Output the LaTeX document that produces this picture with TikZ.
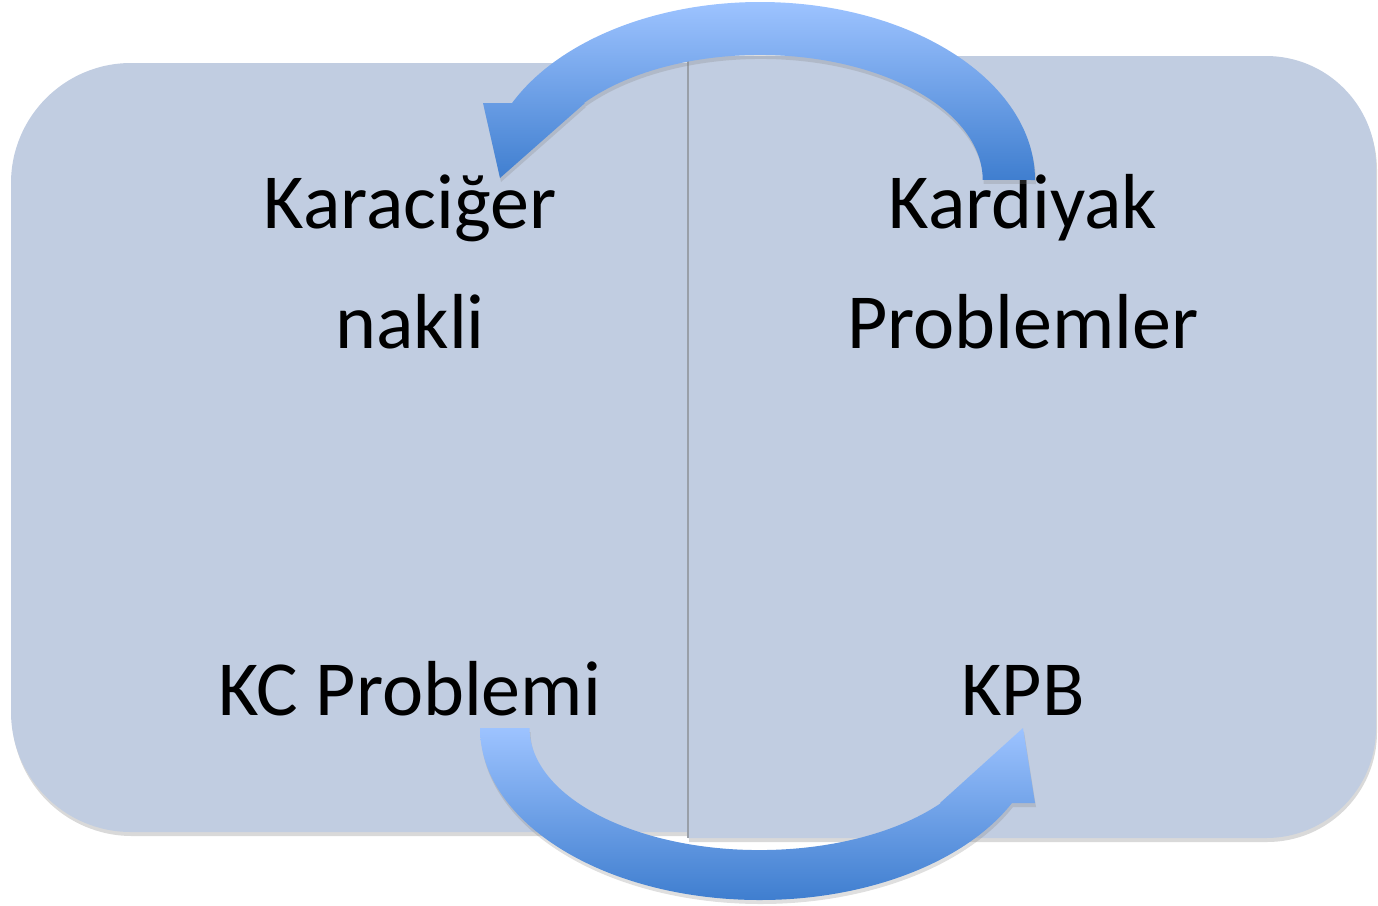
\documentclass[tikz,border=0pt]{standalone}
\usepackage{fontspec}
\setmainfont{Carlito}
\usetikzlibrary{shadows}

\definecolor{panelfill}{HTML}{C1CDE1}
\definecolor{panelline}{HTML}{999FA8}
\definecolor{arrowlight}{HTML}{9DC3FF}
\definecolor{arrowdark}{HTML}{3F7ECF}

\begin{document}
\begin{tikzpicture}[x=1pt,y=-1pt,line join=round,
  panel/.style={fill=panelfill,draw=none,
    drop shadow={opacity=0.3,shadow xshift=1pt,shadow yshift=-4pt}},
  bendarrow/.style={top color=arrowlight,bottom color=arrowdark,draw=none,
    drop shadow={opacity=0.25,shadow xshift=1pt,shadow yshift=-4pt}},
  paneltext/.style={font=\fontsize{78}{120}\selectfont,align=center,anchor=base}]
  % Match the original slide frame.
  \useasboundingbox (0,0) rectangle (1378,905);

  % Two panels, rounded only on their outer sides.
  \path[panel] (687,63) -- (131,63) arc[start angle=90,end angle=180,radius=120pt]
    -- (11,712) arc[start angle=180,end angle=270,radius=120pt] -- (687,832) -- cycle;
  \path[panel] (688,56) -- (1266,56) arc[start angle=90,end angle=0,radius=110pt]
    -- (1376,728) arc[start angle=0,end angle=-90,radius=110pt] -- (688,838) -- cycle;
  \draw[panelline,line width=1.2pt] (688,56) -- (688,838);

  % Panel texts (base anchor sits on the last line).
  \node[paneltext] (liver) at (410,348) {Karaciğer\\nakli};
  \node[paneltext] (cardiac) at (1023,348) {Kardiyak\\Problemler};
  \node[paneltext] (liverprob) at (410,715) {KC Problemi};
  \node[paneltext] (kpb) at (1023,715) {KPB};

  % Arrow ends.
  \coordinate (toptail) at (1035,180);
  \coordinate (toptip) at (500,178);
  \coordinate (bottail) at (480,728);
  \coordinate (bottip) at (1023,728);

  % Top arrow: cardiac side back to the liver side.
  \shade[bendarrow] (toptail) arc[start angle=0,end angle=154.4,x radius=275pt,y radius=178pt]
    -- (483,103) -- (toptip) -- (585,103)
    -- (584,103) arc[start angle=142,end angle=0,x radius=223pt,y radius=125pt] -- cycle;

  % Bottom arrow: liver problem over to KPB.
  \shade[bendarrow] (bottail) arc[start angle=180,end angle=334.1,x radius=280pt,y radius=172pt]
    -- (1035,803) -- (bottip) -- (940,803)
    -- (941,803) arc[start angle=322.1,end angle=180,x radius=230pt,y radius=122pt] -- cycle;
\end{tikzpicture}
\end{document}
